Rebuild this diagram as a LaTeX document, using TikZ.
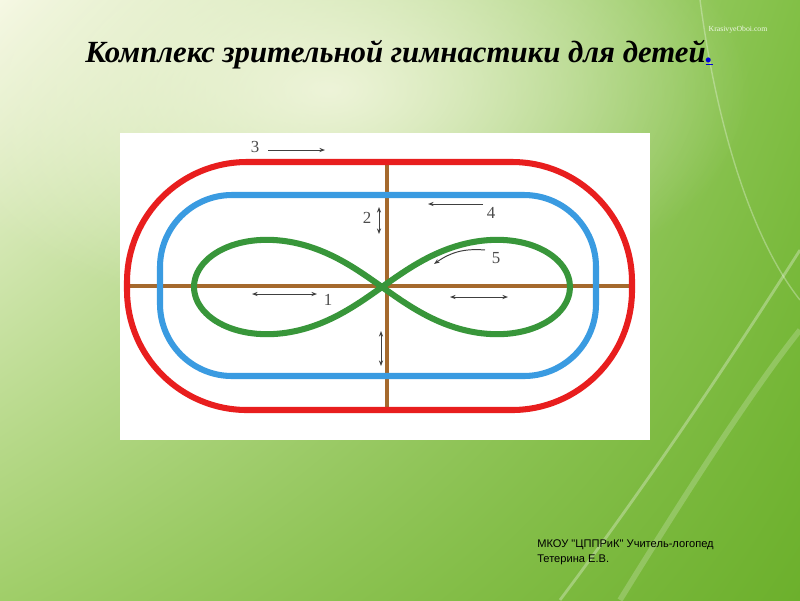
\documentclass[tikz,border=0pt]{standalone}
\usepackage{fontspec}
\setmainfont{Liberation Serif}
\newfontfamily\slidesans{Liberation Sans}
\usetikzlibrary{arrows.meta,shadings,fadings}

\definecolor{trackred}{RGB}{232,30,30}
\definecolor{trackblue}{RGB}{58,155,225}
\definecolor{trackgreen}{RGB}{56,150,58}
\definecolor{trackbrown}{RGB}{165,105,45}
\definecolor{bgpale}{RGB}{246,248,228}
\definecolor{bggreenA}{RGB}{130,192,70}
\definecolor{bggreenB}{RGB}{160,206,105}
\definecolor{bggreenC}{RGB}{108,176,44}

\tikzfading[name=paleglow, inner color=transparent!0, outer color=transparent!100]

\begin{document}
\begin{tikzpicture}[x=0.025cm,y=-0.025cm,
  >={Stealth[length=4pt,width=3pt]},
  track/.style={line width=4.3pt},
  axisline/.style={line width=3.4pt,trackbrown},
  motion/.style={line width=0.7pt,black!75},
  num/.style={font=\fontsize{12}{12}\selectfont,text=black!70,inner sep=0pt},
  streak/.style={white,opacity=0.3,line width=2pt}]
\useasboundingbox (0,0) rectangle (800,600);

% slide background
\shade[upper left=bgpale,upper right=bggreenA,lower left=bggreenB,lower right=bggreenC]
  (0,0) rectangle (800,600);
\fill[bgpale,opacity=0.85,path fading=paleglow] (330,90) ellipse (420 and 230);
\draw[streak] (560,600) .. controls (650,480) and (730,360) .. (800,250);
\draw[streak,line width=4pt,opacity=0.2] (620,600) .. controls (700,470) and (760,380) .. (800,330);
\draw[streak,line width=1pt] (700,0) .. controls (720,150) and (760,250) .. (800,300);

% title
\node[anchor=base west,inner sep=0pt,font=\fontsize{21.9}{24}\selectfont\bfseries\itshape] (title) at (85,62)
  {Комплекс зрительной гимнастики для детей{\color{blue!85!black}\underline{.}}};
\node[font=\fontsize{5.5}{6}\selectfont,text=white,opacity=0.85] (mark) at (738,30) {KrasivyeOboi.com};

% picture
\fill[white] (120,133) rectangle (650,440);

\draw[axisline] (129,286) -- (631,286);
\draw[axisline] (387,162) -- (387,410);

\draw[track,trackblue,rounded corners=1.8cm] (160,195) rectangle (596,376);
\draw[track,trackred,rounded corners=3cm] (127,162) rectangle (632,410);

\draw[track,trackgreen,smooth,samples=120,domain=0:360,variable=\t]
  plot ({382+188*cos(\t)/(1+sin(\t)^2)},{287+0.71*188*sin(\t)*cos(\t)/(1+sin(\t)^2)});

% arrows and numbers
\coordinate (a1l) at (252,294);
\coordinate (a1r) at (317,294);
\draw[motion,<->] (a1l) -- (a1r);
\node[num] (n1) at (328,300) {1};

\coordinate (a1bl) at (450,297);
\coordinate (a1br) at (508,297);
\draw[motion,<->] (a1bl) -- (a1br);

\coordinate (a2t) at (379,207);
\coordinate (a2b) at (379,234);
\draw[motion,<->] (a2t) -- (a2b);
\node[num] (n2) at (367,218) {2};

\coordinate (a2bt) at (381,331);
\coordinate (a2bb) at (381,366);
\draw[motion,<->] (a2bt) -- (a2bb);

\coordinate (a3s) at (268,150);
\coordinate (a3e) at (325,150);
\draw[motion,->] (a3s) -- (a3e);
\node[num] (n3) at (255,147) {3};

\coordinate (a4s) at (483,204);
\coordinate (a4e) at (428,204);
\draw[motion,->] (a4s) -- (a4e);
\node[num] (n4) at (491,213) {4};

\coordinate (a5s) at (485,250);
\coordinate (a5e) at (434,264);
\draw[motion,->] (a5s) to[bend right=20] (a5e);
\node[num] (n5) at (496,258) {5};

% signature
\node[anchor=north west,align=left,inner sep=0pt,font=\slidesans\fontsize{7.9}{10.7}\selectfont] (author) at (537,539)
  {МКОУ "ЦППРиК" Учитель-логопед\\Тетерина Е.В.};
\end{tikzpicture}
\end{document}
